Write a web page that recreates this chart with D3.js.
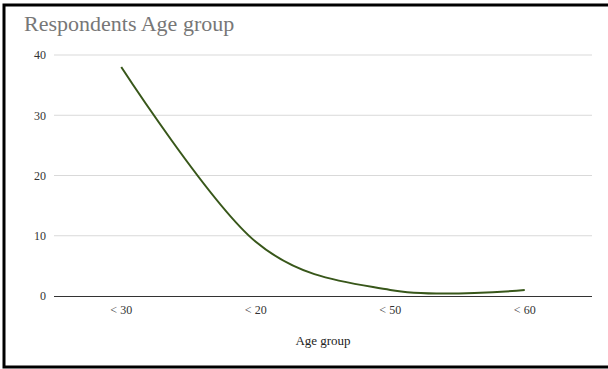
<!DOCTYPE html>
<html>
<head>
<meta charset="utf-8">
<script src="https://cdn.jsdelivr.net/npm/d3@7"></script>
<style>
  html, body { margin: 0; padding: 0; background: #fff; }
  svg { display: block; }
</style>
</head>
<body>
<svg id="chart" width="608" height="369"></svg>
<script>
// Respondents per age group
const categories = ["< 30", "< 20", "< 50", "< 60"];
const respondents = [38, 9, 1, 1];
const yTicks = [0, 10, 20, 30, 40];

const svg = d3.select("#chart");
const W = 608, H = 369;
const plot = { left: 54, right: 592, top: 55, bottom: 296 };

// outer frame (right edge runs past the page)
svg.append("rect")
  .attr("x", 4).attr("y", 5)
  .attr("width", W + 10).attr("height", 362)
  .attr("fill", "#fff")
  .attr("stroke", "#000").attr("stroke-width", 3);

svg.append("text")
  .attr("x", 24).attr("y", 31)
  .attr("font-family", "Liberation Serif, serif")
  .attr("font-size", 22)
  .attr("fill", "#777")
  .text("Respondents Age group");

const x = d3.scaleBand().domain(categories).range([plot.left, plot.right]);
const y = d3.scaleLinear().domain([0, 40]).range([plot.bottom, plot.top]);

// horizontal gridlines
svg.append("g").selectAll("line")
  .data(yTicks.filter(d => d !== 0))
  .join("line")
  .attr("x1", plot.left).attr("x2", plot.right)
  .attr("y1", d => y(d)).attr("y2", d => y(d))
  .attr("stroke", "#d9d9d9").attr("stroke-width", 1);

// y axis labels
const yAxis = d3.axisLeft(y).tickValues(yTicks).tickSize(0).tickPadding(8);
const gy = svg.append("g").attr("transform", `translate(${plot.left},0)`).call(yAxis);
gy.select(".domain").remove();
gy.selectAll("text")
  .attr("font-family", "Liberation Serif, serif")
  .attr("font-size", 12)
  .attr("fill", "#333");

// x axis with baseline
const xAxis = d3.axisBottom(x).tickSize(0).tickPadding(9);
const gx = svg.append("g").attr("transform", `translate(0,${plot.bottom})`).call(xAxis);
gx.select(".domain").attr("stroke", "#333").attr("d", `M${plot.left},0.5H${plot.right}`);
gx.selectAll("text")
  .attr("font-family", "Liberation Serif, serif")
  .attr("font-size", 12)
  .attr("fill", "#333");

svg.append("text")
  .attr("x", (plot.left + plot.right) / 2)
  .attr("y", 345)
  .attr("text-anchor", "middle")
  .attr("font-family", "Liberation Serif, serif")
  .attr("font-size", 13)
  .attr("fill", "#222")
  .text("Age group");

// smoothed series line
const line = d3.line()
  .x((d, i) => x(categories[i]) + x.bandwidth() / 2)
  .y(d => y(d))
  .curve(d3.curveCardinal.tension(0));

svg.append("path")
  .datum(respondents)
  .attr("d", line)
  .attr("fill", "none")
  .attr("stroke", "#38571a")
  .attr("stroke-width", 2);
</script>
</body>
</html>
